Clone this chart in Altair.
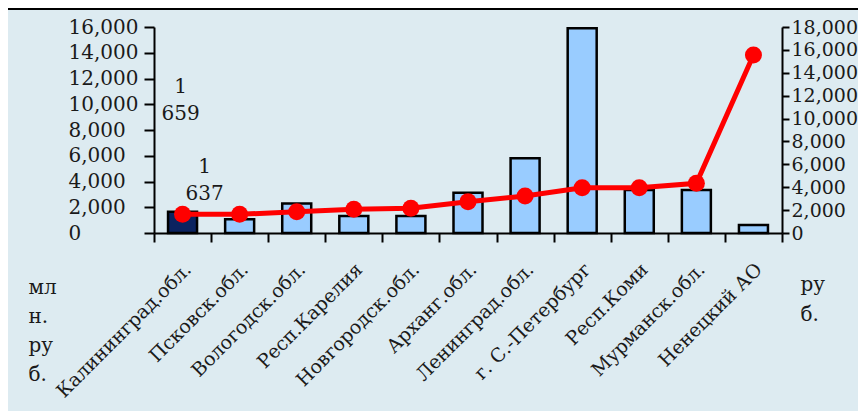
import altair as alt
import pandas as pd

regions = ["Калининград.обл.", "Псковск.обл.", "Вологодск.обл.", "Респ.Карелия",
           "Новгородск.обл.", "Арханг.обл.", "Ленинград.обл.", "г. С.-Петербург",
           "Респ.Коми", "Мурманск.обл.", "Ненецкий АО"]
bar_values = [1659, 1060, 2300, 1320, 1320, 3130, 5800, 15900, 3340, 3340, 620]
line_values = [1637, 1630, 1860, 2070, 2160, 2740, 3230, 3960, 3960, 4340, 15560]
highlight = ["yes"] + ["no"] * 10

left_ticks = list(range(0, 16001, 2000))
right_ticks = list(range(0, 18001, 2000))

df = pd.DataFrame({"region": regions, "bar": bar_values, "line": line_values, "hl": highlight})
bar_label_df = pd.DataFrame({"region": [regions[0]], "bar": [bar_values[0]], "txt": ["1\n659"]})
line_label_df = pd.DataFrame({"region": [regions[0]], "line": [line_values[0]], "txt": ["1\n637"]})

FONT = "DejaVu Serif"
TXT = "#1a1a1a"

x_axis = alt.Axis(labelAngle=-45, labelAlign="right", labelBaseline="middle",
                  labelPadding=24, labelOffset=5, tickSize=9, tickBand="extent",
                  labelFont=FONT, labelFontSize=19, labelColor=TXT,
                  domainColor="black", tickColor="black", domainWidth=2, tickWidth=2,
                  labelOverlap=False, labelLimit=400, title=None)
x_scale = alt.Scale(paddingInner=0, paddingOuter=0)


def xenc():
    return alt.X("region:N", sort=regions, title=None, scale=x_scale, axis=x_axis)


left_scale = alt.Scale(domain=[0, 16000], nice=False)
right_scale = alt.Scale(domain=[0, 18000], nice=False)

left_axis = alt.Axis(orient="left", values=left_ticks, format=",d", tickSize=10,
                     labelAlign="left", labelPadding=76, labelFont=FONT, labelFontSize=20,
                     labelColor=TXT, domainColor="black", tickColor="black",
                     domainWidth=2, tickWidth=2, grid=False, labelOverlap=False,
                     labelFlush=False, labelBound=False,
                     title=["мл", "н.", "ру", "б."], titleAngle=0, titleX=-126, titleY=266,
                     titleAlign="left", titleBaseline="alphabetic", titleFont=FONT,
                     titleFontSize=20, titleFontWeight="normal", titleColor=TXT,
                     titleLineHeight=29)
right_axis = alt.Axis(orient="right", values=right_ticks, format=",d", tickSize=7,
                      labelAlign="left", labelPadding=2, labelFont=FONT, labelFontSize=19,
                      labelColor=TXT, domainColor="black", tickColor="black",
                      domainWidth=2, tickWidth=2, grid=False, labelOverlap=False,
                      labelFlush=False, labelBound=False,
                      title=["ру", "б."], titleAngle=0, titleX=18, titleY=263,
                      titleAlign="left", titleBaseline="alphabetic", titleFont=FONT,
                      titleFontSize=20, titleFontWeight="normal", titleColor=TXT,
                      titleLineHeight=30)

bars = alt.Chart(df).mark_bar(size=29, stroke="black", strokeWidth=2.5).encode(
    x=xenc(),
    y=alt.Y("bar:Q", scale=left_scale, axis=left_axis),
    color=alt.Color("hl:N", scale=alt.Scale(domain=["yes", "no"], range=["#0b2360", "#99ccff"]),
                    legend=None),
)

bar_label = alt.Chart(bar_label_df).mark_text(
    font=FONT, fontSize=20, color=TXT, lineBreak="\n", lineHeight=27,
    align="center", baseline="bottom", dx=-2, dy=-115
).encode(x=xenc(), y=alt.Y("bar:Q", scale=left_scale, axis=left_axis), text="txt:N")

top_line = alt.Chart(df).mark_rule(color="black", strokeWidth=2).encode(
    x=alt.value(-146), x2=alt.value(704), y=alt.value(-18))

left_layer = alt.layer(bars, bar_label, top_line)

line = alt.Chart(df).mark_line(color="#ff0000", strokeWidth=5).encode(
    x=xenc(),
    y=alt.Y("line:Q", scale=right_scale, axis=right_axis),
)
points = alt.Chart(df).mark_point(filled=True, size=290, color="#ff0000", opacity=1).encode(
    x=xenc(), y=alt.Y("line:Q", scale=right_scale, axis=right_axis))

line_label = alt.Chart(line_label_df).mark_text(
    font=FONT, fontSize=20, color=TXT, lineBreak="\n", lineHeight=27,
    align="center", baseline="bottom", dx=22, dy=-37
).encode(x=xenc(), y=alt.Y("line:Q", scale=right_scale, axis=right_axis), text="txt:N")

right_layer = alt.layer(line, points, line_label)

chart = alt.layer(left_layer, right_layer).resolve_scale(y="independent").properties(
    width=628, height=206,
    background="#ddebf1",
    autosize=alt.AutoSizeParams(type="none"),
    padding={"left": 146, "top": 19, "right": 76, "bottom": 185},
).configure_view(stroke=None)

chart.save("out.html", embed_options={"renderer": "svg", "actions": False})
